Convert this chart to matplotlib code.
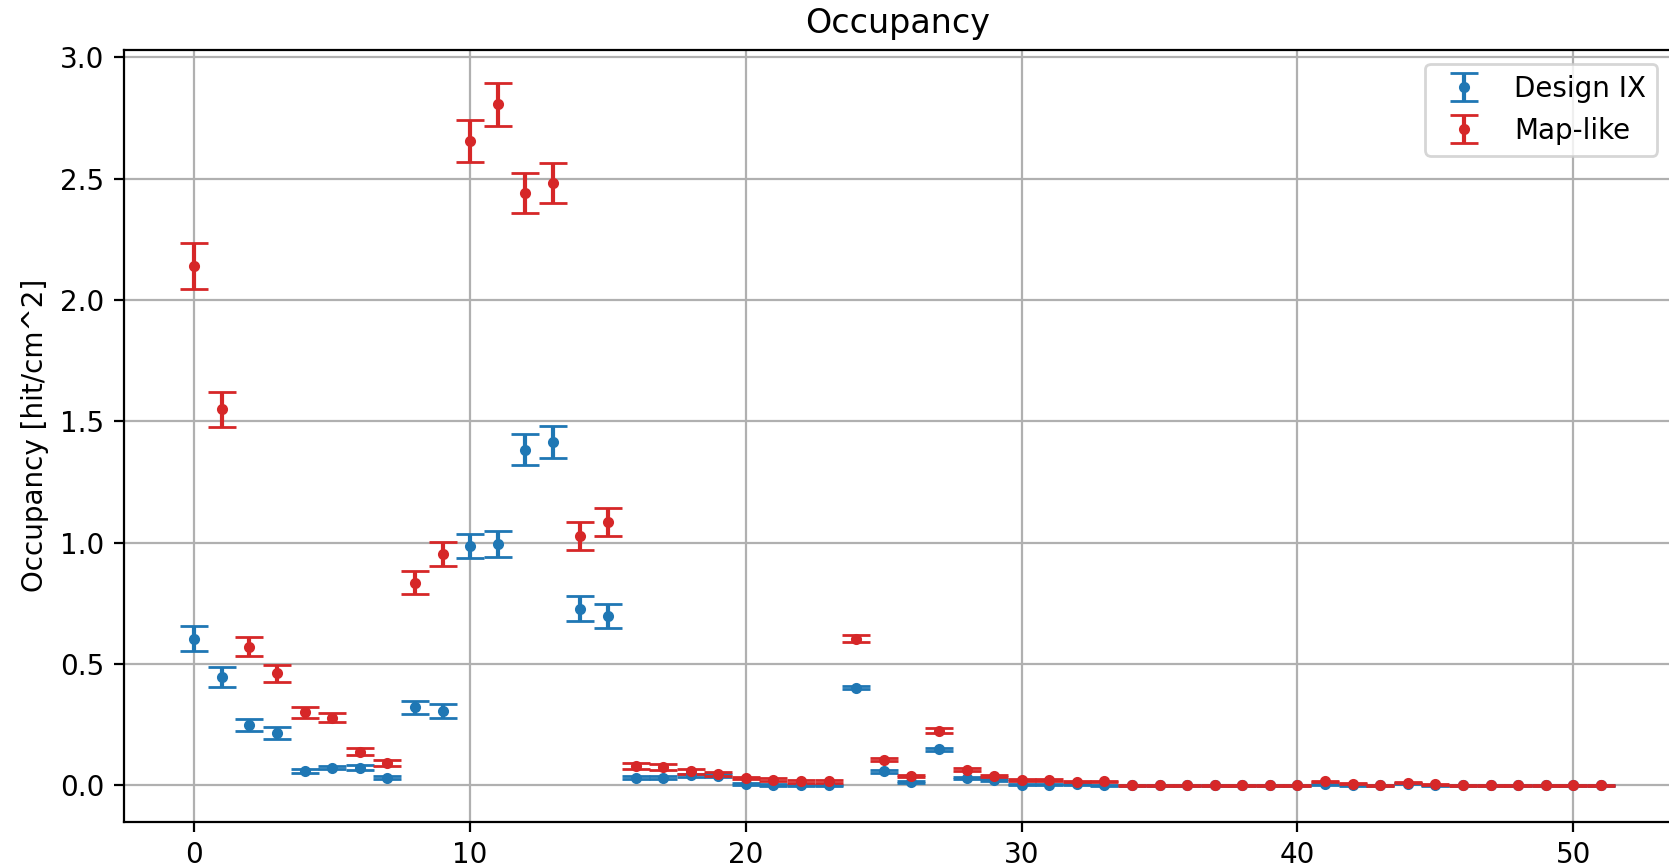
"""
Occupancy per layer for two detector designs, with error bars.
"""

import numpy as np
import matplotlib

matplotlib.use("Agg")
import matplotlib.pyplot as plt

layers = np.arange(52)

# Design IX occupancy [hit/cm^2] and its uncertainty
design_ix = [
    0.605, 0.447, 0.250, 0.215, 0.061, 0.074, 0.074, 0.032, 0.323, 0.307,
    0.987, 0.994, 1.384, 1.417, 0.729, 0.698, 0.032, 0.032, 0.042, 0.040,
    0.007, 0.002, 0.000, 0.000, 0.403, 0.058, 0.014, 0.149, 0.031, 0.021,
    0.004, 0.004, 0.006, 0.000, 0.000, 0.000, 0.000, 0.000, 0.000, 0.000,
    0.000, 0.005, 0.000, 0.000, 0.008, 0.000, 0.000, 0.000, 0.000, 0.000,
    0.000, 0.000,
]
design_ix_err = [
    0.051, 0.041, 0.025, 0.025, 0.008, 0.007, 0.010, 0.006, 0.027, 0.029,
    0.050, 0.054, 0.062, 0.066, 0.050, 0.050, 0.007, 0.007, 0.006, 0.006,
    0.004, 0.003, 0.002, 0.002, 0.007, 0.005, 0.004, 0.007, 0.004, 0.004,
    0.002, 0.002, 0.002, 0.001, 0.001, 0.001, 0.001, 0.001, 0.001, 0.001,
    0.001, 0.002, 0.001, 0.001, 0.002, 0.001, 0.001, 0.001, 0.001, 0.001,
    0.001, 0.001,
]

# Map-like occupancy [hit/cm^2] and its uncertainty
map_like = [
    2.140, 1.549, 0.572, 0.463, 0.302, 0.280, 0.140, 0.091, 0.836, 0.953,
    2.655, 2.806, 2.441, 2.482, 1.028, 1.086, 0.081, 0.076, 0.058, 0.049,
    0.031, 0.024, 0.017, 0.017, 0.605, 0.107, 0.039, 0.225, 0.065, 0.039,
    0.024, 0.023, 0.016, 0.017, 0.000, 0.000, 0.000, 0.000, 0.000, 0.000,
    0.000, 0.017, 0.008, 0.000, 0.011, 0.006, 0.000, 0.000, 0.000, 0.000,
    0.000, 0.000,
]
map_like_err = [
    0.095, 0.074, 0.038, 0.035, 0.022, 0.020, 0.013, 0.012, 0.046, 0.050,
    0.087, 0.088, 0.084, 0.083, 0.058, 0.058, 0.012, 0.012, 0.009, 0.008,
    0.006, 0.005, 0.005, 0.005, 0.014, 0.007, 0.005, 0.010, 0.006, 0.005,
    0.004, 0.004, 0.003, 0.003, 0.001, 0.001, 0.001, 0.001, 0.001, 0.001,
    0.001, 0.003, 0.002, 0.001, 0.002, 0.002, 0.001, 0.001, 0.001, 0.001,
    0.001, 0.001,
]

fig = plt.figure(figsize=(1669 / 200, 865 / 200), dpi=200)
# the original is cropped on the right, so the axes run past the figure edge
ax = fig.add_axes([0.0743, 0.0501, 0.927, 0.8921])

ax.errorbar(layers, design_ix, yerr=design_ix_err, fmt=".", capsize=5,
            color="tab:blue", label="Design IX")
ax.errorbar(layers, map_like, yerr=map_like_err, fmt=".", capsize=5,
            color="tab:red", label="Map-like")

ax.set_xlim(-2.55, 53.55)
ax.set_ylim(-0.149, 3.03)
ax.grid(True)

ax.set_title("Occupancy")
ax.set_ylabel("Occupancy [hit/cm^2]")
ax.legend(loc="upper right")

fig.savefig("out.png", dpi=200)
